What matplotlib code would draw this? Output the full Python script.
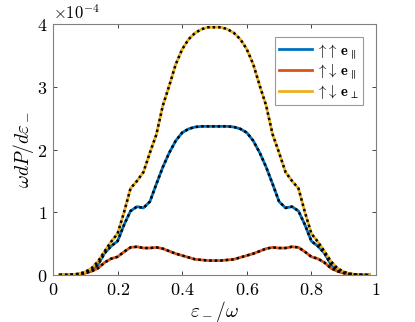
import numpy as np
import matplotlib
matplotlib.use("Agg")
import matplotlib.pyplot as plt

plt.rcParams['mathtext.fontset'] = 'cm'
plt.rcParams['font.family'] = 'serif'
plt.rcParams['font.serif'] = ['DejaVu Serif']

# energie relative eps_-/omega
x = [0.02, 0.04, 0.06, 0.08, 0.10, 0.12, 0.14, 0.16, 0.18, 0.20,
     0.22, 0.24, 0.26, 0.28, 0.30, 0.32, 0.34, 0.36, 0.38, 0.40,
     0.42, 0.44, 0.46, 0.48, 0.50, 0.52, 0.54, 0.56, 0.58, 0.60,
     0.62, 0.64, 0.66, 0.68, 0.70, 0.72, 0.74, 0.76, 0.78, 0.80,
     0.82, 0.84, 0.86, 0.88, 0.90, 0.92, 0.94, 0.96, 0.98]

# valeurs en unites de 1e-4
up_up_par = [0.0, 0.0, 0.005, 0.015, 0.035, 0.07, 0.17, 0.35, 0.46, 0.54,
             0.80, 1.02, 1.09, 1.07, 1.17, 1.45, 1.72, 1.95, 2.14, 2.27,
             2.33, 2.36, 2.37, 2.37, 2.37, 2.37, 2.37, 2.36, 2.33, 2.27,
             2.14, 1.95, 1.72, 1.45, 1.17, 1.07, 1.09, 1.02, 0.80, 0.54,
             0.46, 0.35, 0.17, 0.07, 0.035, 0.015, 0.005, 0.0, 0.0]

up_down_par = [0.0, 0.0, 0.005, 0.01, 0.03, 0.06, 0.11, 0.20, 0.26, 0.29,
               0.37, 0.44, 0.45, 0.43, 0.43, 0.44, 0.42, 0.38, 0.34, 0.31,
               0.28, 0.25, 0.24, 0.23, 0.23, 0.23, 0.24, 0.25, 0.28, 0.31,
               0.34, 0.38, 0.42, 0.44, 0.43, 0.43, 0.45, 0.44, 0.37, 0.29,
               0.26, 0.20, 0.11, 0.06, 0.03, 0.01, 0.005, 0.0, 0.0]

up_down_perp = [0.0, 0.0, 0.005, 0.02, 0.05, 0.11, 0.22, 0.38, 0.53, 0.66,
                1.00, 1.38, 1.50, 1.64, 1.95, 2.24, 2.70, 3.02, 3.36, 3.60,
                3.76, 3.86, 3.92, 3.95, 3.95, 3.95, 3.92, 3.86, 3.76, 3.60,
                3.36, 3.02, 2.70, 2.24, 1.95, 1.64, 1.50, 1.38, 1.00, 0.66,
                0.53, 0.38, 0.22, 0.11, 0.05, 0.02, 0.005, 0.0, 0.0]

labels = [r'$\uparrow\!\uparrow\,\mathbf{e}_\parallel$',
          r'$\uparrow\!\downarrow\,\mathbf{e}_\parallel$',
          r'$\uparrow\!\downarrow\,\mathbf{e}_\perp$']
colors = ['#0072BD', '#D95319', '#EDB120']

xticks = [0, 0.2, 0.4, 0.6, 0.8, 1]
yticks = [0, 1, 2, 3, 4]

fig = plt.figure(figsize=(4.15, 3.22), dpi=100)
ax = fig.add_axes([0.1277, 0.146, 0.7783, 0.779])

for y, c, lab in zip([up_up_par, up_down_par, up_down_perp], colors, labels):
    ax.plot(x, y, color=c, lw=2.0, label=lab)
for y in [up_up_par, up_down_par, up_down_perp]:
    ax.plot(x, y, color='k', lw=1.8, ls=(0, (1, 1.2)))

ax.set_xlim(0, 1)
ax.set_ylim(0, 4)
ax.set_xticks(xticks)
ax.set_xticklabels(['$%g$' % t for t in xticks])
ax.set_yticks(yticks)
ax.set_yticklabels(['$%g$' % t for t in yticks])
ax.tick_params(direction='in', top=True, right=True, labelsize=13,
               color='#262626', length=3, width=0.6, pad=4)
for s in ax.spines.values():
    s.set_color('#808080')
    s.set_linewidth(0.8)

ax.set_xlabel(r'$\varepsilon_-/\omega$', fontsize=14, labelpad=0)
ax.set_ylabel(r'$\omega dP/d\varepsilon_-$', fontsize=14, labelpad=1)
ax.text(0.0, 1.005, r'$\times10^{-4}$', transform=ax.transAxes, fontsize=12,
        ha='left', va='bottom')

leg = ax.legend(loc='upper right', fontsize=10.5, fancybox=False,
                borderaxespad=0.9, handlelength=2.2, handletextpad=0.3,
                labelspacing=0.12, borderpad=0.3)
leg.get_frame().set_edgecolor('#808080')
leg.get_frame().set_linewidth(0.8)

fig.savefig('out.png', dpi=100)
